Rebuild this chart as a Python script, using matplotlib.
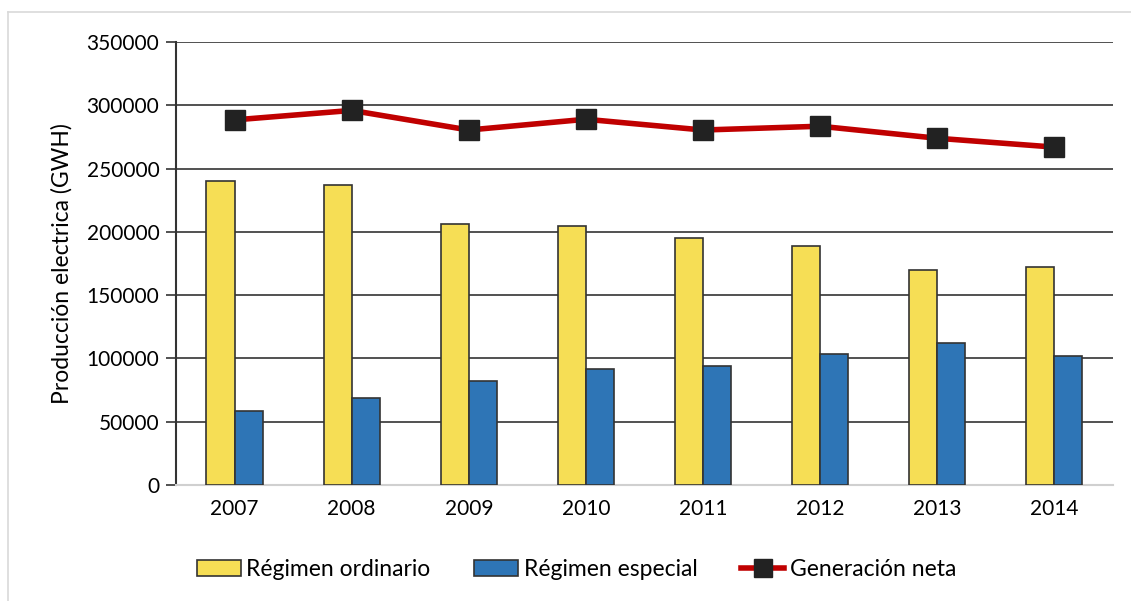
import numpy as np
import matplotlib
matplotlib.use("Agg")
import matplotlib.pyplot as plt
from matplotlib.lines import Line2D

plt.rcParams['font.family'] = ['Lato', 'DejaVu Sans']

# # Data

years = ['2007', '2008', '2009', '2010', '2011', '2012', '2013', '2014']
ordinario = [240000, 237000, 206500, 204500, 195000, 189000, 169500, 172500]
especial = [58500, 69000, 82000, 91800, 94000, 103500, 112000, 102000]
neta = [288500, 296000, 280500, 289000, 280500, 283500, 274000, 267000]

# # Plot

fig = plt.figure(figsize=(11.31, 6.01), dpi=100)
ax = fig.add_axes([0.1556, 0.193, 0.8284, 0.737])

x = np.arange(len(years))
w = 0.24
ax.bar(x - w / 2, ordinario, w, color='#F6DE55', edgecolor='#333333', linewidth=1.2,
       label='Régimen ordinario', zorder=3)
ax.bar(x + w / 2, especial, w, color='#2E75B6', edgecolor='#333333', linewidth=1.2,
       label='Régimen especial', zorder=3)
ax.plot(x, neta, color='#C00000', linewidth=4, marker='s', markersize=15,
        markerfacecolor='#222222', markeredgecolor='#222222', label='Generación neta', zorder=4)

ax.set_xlim(-0.5, 7.5)
ax.set_ylim(0, 350000)
ax.set_yticks(np.arange(0, 350001, 50000))
ax.set_xticks(x)
ax.set_xticklabels(years)
ax.grid(axis='y', color='#333333', linewidth=1.2, zorder=0)
ax.tick_params(axis='y', length=7, width=1.2, color='#333333', labelsize=15, pad=5)
ax.tick_params(axis='x', length=0, labelsize=15, pad=10)

for s in ['top', 'right']:
    ax.spines[s].set_visible(False)
ax.spines['left'].set_color('#333333')
ax.spines['left'].set_linewidth(1.5)
ax.spines['bottom'].set_color('#d0d0d0')
ax.spines['bottom'].set_linewidth(1.5)

ax.set_ylabel('Producción electrica (GWH)', fontsize=16.5, labelpad=10)

handles = [
    plt.Rectangle((0, 0), 1, 1, facecolor='#F6DE55', edgecolor='#333333', linewidth=1.2),
    plt.Rectangle((0, 0), 1, 1, facecolor='#2E75B6', edgecolor='#333333', linewidth=1.2),
    Line2D([0], [0], color='#C00000', linewidth=4, marker='s', markersize=13,
           markerfacecolor='#222222', markeredgecolor='#222222'),
]
fig.legend(handles, ['Régimen ordinario', 'Régimen especial', 'Generación neta'],
           loc='center', bbox_to_anchor=(0.51, 0.052), ncol=3, frameon=False,
           fontsize=16.5, handlelength=1.9, handleheight=0.7, handletextpad=0.25,
           columnspacing=1.9)

# light border round the chart area
fig.add_artist(Line2D([8 / 1131, 8 / 1131], [0, 1 - 12 / 601], color='#d9d9d9', linewidth=1.2))
fig.add_artist(Line2D([8 / 1131, 1], [1 - 12 / 601, 1 - 12 / 601], color='#d9d9d9', linewidth=1.2))

plt.savefig('out.png', dpi=100)
